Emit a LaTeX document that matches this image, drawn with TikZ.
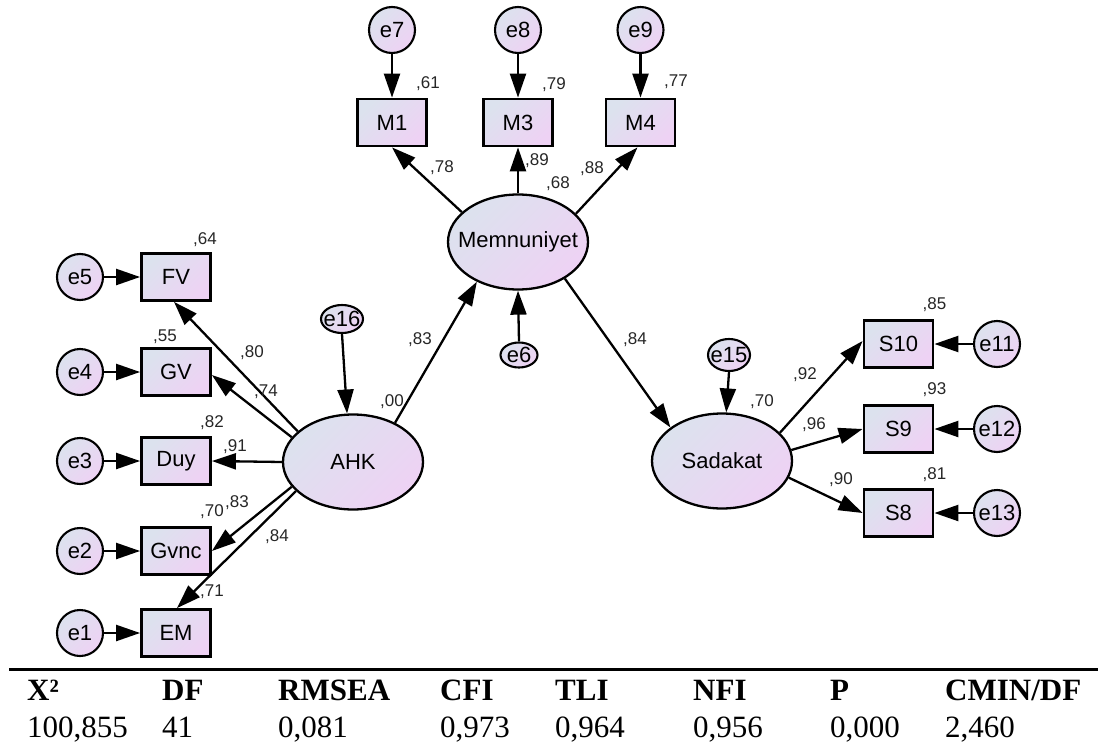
\documentclass[tikz,border=0pt]{standalone}
\usepackage{fontspec}
\setmainfont{Liberation Sans}
\newfontfamily\tabfont{Liberation Serif}
\usetikzlibrary{shapes.geometric,arrows.meta}
\definecolor{gradA}{RGB}{220,226,238}
\definecolor{gradB}{RGB}{238,210,244}
\newcommand{\nodesz}{\fontsize{22}{24}\selectfont}
\newcommand{\coefsz}{\fontsize{17}{18}\selectfont}
\newcommand{\tabsz}{\fontsize{31}{36}\selectfont}

\begin{document}
\begin{tikzpicture}[x=1pt,y=-1pt,
  grad/.style={top color=gradA, bottom color=gradB, shading angle=45},
  latent/.style={ellipse, draw, line width=2.3pt, minimum width=140pt,
    minimum height=95pt, inner sep=0pt, grad, font=\nodesz},
  resid/.style={ellipse, draw, line width=2.1pt, inner sep=0pt, grad, font=\nodesz},
  obs/.style={rectangle, draw, line width=2.8pt, minimum width=69pt,
    minimum height=47pt, inner sep=0pt, grad, font=\nodesz},
  err/.style={circle, draw, line width=2.1pt, minimum size=46pt,
    inner sep=0pt, grad, font=\nodesz},
  coef/.style={font=\coefsz, inner sep=0pt, text=black!85},
  arr/.style={draw, line width=2.3pt, -{Triangle[length=24pt,width=16pt]}},
  hdr/.style={font=\tabfont\tabsz\bfseries, inner sep=0pt, anchor=base west},
  val/.style={font=\tabfont\tabsz, inner sep=0pt, anchor=base west}
]
\useasboundingbox (0,0) rectangle (1098,744);

% latent variables
\node[latent] (Mem) at (518,242) {\makebox[0pt]{Memnuniyet}};
\node[latent] (AHK) at (353,462) {\makebox[0pt]{AHK}};
\node[latent] (Sad) at (722,461) {\makebox[0pt]{Sadakat}};

% structural residuals
\node[resid, minimum width=42pt, minimum height=28pt] (e16) at (342,319) {\makebox[0pt]{e16}};
\node[resid, minimum width=37pt, minimum height=25pt] (e6) at (519,355) {\makebox[0pt]{e6}};
\node[resid, minimum width=42pt, minimum height=32pt] (e15) at (729,355) {\makebox[0pt]{e15}};

% Memnuniyet indicators
\node[obs] (M1) at (392,122.5) {M1};
\node[obs] (M3) at (518,122.5) {M3};
\node[obs] (M4) at (640.5,122.5) {M4};
\node[err] (e7) at (392,30) {e7};
\node[err] (e8) at (518,30) {e8};
\node[err] (e9) at (640.5,30) {e9};

% AHK indicators
\node[obs] (FV) at (176,277) {FV};
\node[obs] (GV) at (176,372) {GV};
\node[obs] (Duy) at (176,461) {Duy};
\node[obs] (Gvnc) at (176,551) {Gvnc};
\node[obs] (EM) at (176,633) {EM};
\node[err] (e5) at (80,277) {e5};
\node[err] (e4) at (80,372) {e4};
\node[err] (e3) at (80,461) {e3};
\node[err] (e2) at (80,551) {e2};
\node[err] (e1) at (80,633) {e1};

% Sadakat indicators
\node[obs] (S10) at (898.5,344) {S10};
\node[obs] (S9) at (898.5,429) {S9};
\node[obs] (S8) at (898.5,513) {S8};
\node[err] (e11) at (997,344) {e11};
\node[err] (e12) at (997,429) {e12};
\node[err] (e13) at (997,513) {e13};

% error terms
\draw[arr] (e7) -- (M1);
\draw[arr] (e8) -- (M3);
\draw[arr] (e9) -- (M4);
\draw[arr] (e5) -- (FV);
\draw[arr] (e4) -- (GV);
\draw[arr] (e3) -- (Duy);
\draw[arr] (e2) -- (Gvnc);
\draw[arr] (e1) -- (EM);
\draw[arr] (e11) -- (S10);
\draw[arr] (e12) -- (S9);
\draw[arr] (e13) -- (S8);
\draw[arr] (e16.south) -- (AHK.97);
\draw[arr] (e6.north) -- (Mem.south);
\draw[arr] (e15.south) -- (Sad.85);

% loadings
\draw[arr] (Mem.152.6) -- (M1.south);
\draw[arr] (Mem.north) -- (M3.south);
\draw[arr] (Mem.26) -- ([xshift=-3pt]M4.south);
\draw[arr] (AHK.151.4) -- ([xshift=-2pt]FV.south);
\draw[arr] (AHK.158) -- ([yshift=-3pt]GV.east);
\draw[arr] (AHK.west) -- (Duy.east);
\draw[arr] (AHK.202.6) -- (Gvnc.east);
\draw[arr] (AHK.207) -- ([xshift=1pt]EM.north);
\draw[arr] (Sad.26.6) -- ([yshift=3pt]S10.west);
\draw[arr] (Sad.9) -- (S9.west);
\draw[arr] (Sad.346.6) -- (S8.west);

% structural paths
\draw[arr] (AHK.43.7) -- (Mem.224);
\draw[arr] (Mem.322) -- (Sad.147.6);

% estimates
\node[coef] (c61) at (428,84) {,61};
\node[coef] (c79) at (554,85) {,79};
\node[coef] (c77) at (676,82) {,77};
\node[coef] (c78) at (442,168) {,78};
\node[coef] (c89) at (537,161) {,89};
\node[coef] (c88) at (592,169) {,88};
\node[coef] (c68) at (558,184) {,68};
\node[coef] (c64) at (205,240) {,64};
\node[coef] (c55) at (165,337) {,55};
\node[coef] (c80) at (252,353) {,80};
\node[coef] (c74) at (266,392) {,74};
\node[coef] (c82) at (212,423) {,82};
\node[coef] (c91) at (235,447) {,91};
\node[coef] (c70a) at (212,512) {,70};
\node[coef] (c83a) at (237,503) {,83};
\node[coef] (c84a) at (277,537) {,84};
\node[coef] (c71) at (212,592) {,71};
\node[coef] (c00) at (392,402) {,00};
\node[coef] (c83b) at (420,340) {,83};
\node[coef] (c84b) at (635,340) {,84};
\node[coef] (c70b) at (762,402) {,70};
\node[coef] (c92) at (805,375) {,92};
\node[coef] (c96) at (814,425) {,96};
\node[coef] (c90) at (841,480) {,90};
\node[coef] (c85) at (934.5,305) {,85};
\node[coef] (c93) at (934.5,390) {,93};
\node[coef] (c81) at (934.5,475) {,81};

% fit indices table
\draw[line width=3pt] (9,669) -- (1098,669);
\node[hdr] (hX) at (27,700) {X²};
\node[hdr] (hDF) at (162,700) {DF};
\node[hdr] (hRM) at (278,700) {RMSEA};
\node[hdr] (hCFI) at (440,700) {CFI};
\node[hdr] (hTLI) at (555,700) {TLI};
\node[hdr] (hNFI) at (693,700) {NFI};
\node[hdr] (hP) at (830,700) {P};
\node[hdr] (hCM) at (945,700) {CMIN/DF};
\node[val] (vX) at (27,737) {100,855};
\node[val] (vDF) at (162,737) {41};
\node[val] (vRM) at (278,737) {0,081};
\node[val] (vCFI) at (440,737) {0,973};
\node[val] (vTLI) at (555,737) {0,964};
\node[val] (vNFI) at (693,737) {0,956};
\node[val] (vP) at (830,737) {0,000};
\node[val] (vCM) at (945,737) {2,460};
\end{tikzpicture}
\end{document}
